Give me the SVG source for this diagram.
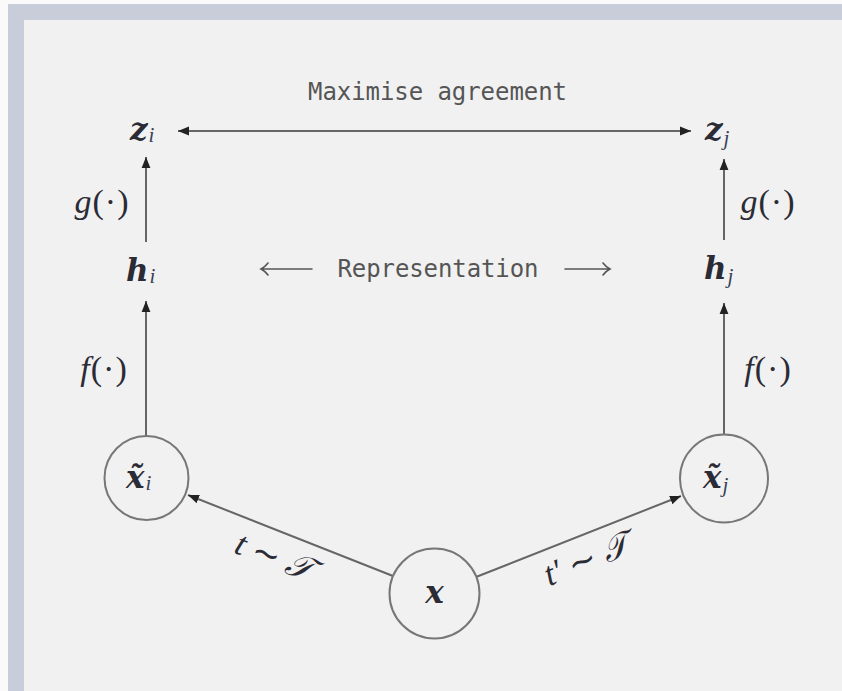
<svg xmlns="http://www.w3.org/2000/svg" width="842" height="691" viewBox="0 0 842 691">
<defs>
<style>
.bg{fill:#f1f1f1}
.band{fill:#c9ccd9}
.mono{font-family:"DejaVu Sans Mono","Liberation Mono",monospace;font-size:24px;fill:#555}
.mb{font-family:"DejaVu Serif",serif;font-weight:bold;font-style:italic;font-size:31px;fill:#2b2b35}
.mi{font-family:"Liberation Serif",serif;font-style:italic;font-size:34px;fill:#2b2b35}
.up{font-family:"Liberation Serif",serif;font-style:normal;font-size:34px;fill:#2b2b35}
.sub{font-family:"Liberation Serif",serif;font-style:italic;font-weight:normal;font-size:21px;fill:#3a3f55}
.line{stroke:#666;stroke-width:2;fill:none}
.thin{stroke:#555;stroke-width:1.6;fill:none;stroke-linecap:round}
.node{stroke:#777;stroke-width:2;fill:none}
</style>
<marker id="ah" viewBox="0 0 10 10" refX="10" refY="5" markerWidth="11" markerHeight="11" markerUnits="userSpaceOnUse" orient="auto">
<path d="M0,1 L10,5 L0,9 z" fill="#222"/>
</marker>
</defs>
<rect x="0" y="0" width="842" height="691" fill="#fafafa"/>
<rect x="8" y="4" width="834" height="687" class="band"/>
<rect x="24" y="20" width="818" height="671" class="bg"/>

<g id="connectors">
<line class="line" x1="400" y1="131" x2="178" y2="131" marker-end="url(#ah)"/>
<line class="line" x1="400" y1="131" x2="691" y2="131" marker-end="url(#ah)"/>
<line class="line" x1="146" y1="242" x2="146" y2="157" marker-end="url(#ah)"/>
<line class="line" x1="724" y1="240" x2="724" y2="159" marker-end="url(#ah)"/>
<line class="line" x1="146" y1="436" x2="146" y2="301" marker-end="url(#ah)"/>
<line class="line" x1="724" y1="434" x2="724" y2="303" marker-end="url(#ah)"/>
<line class="line" x1="393" y1="576" x2="188" y2="495" marker-end="url(#ah)"/>
<line class="line" x1="476" y1="577" x2="681" y2="496" marker-end="url(#ah)"/>
<text class="mono" x="437.5" y="100" text-anchor="middle" textLength="259">Maximise agreement</text>
<text class="mono" x="438" y="277" text-anchor="middle" textLength="201">Representation</text>
<path class="thin" d="M312,269 H261 M268,263 Q265,267 261,269 Q265,271 268,275"/>
<path class="thin" d="M565,269 H610 M603,263 Q606,267 610,269 Q606,271 603,275"/>
<text class="mi" x="102" y="213" text-anchor="middle" letter-spacing="1">g<tspan class="up">(·)</tspan></text>
<text class="mi" x="768" y="213" text-anchor="middle" letter-spacing="1">g<tspan class="up">(·)</tspan></text>
<text class="mi" x="104" y="380" text-anchor="middle" letter-spacing="1">f<tspan class="up">(·)</tspan></text>
<text class="mi" x="768" y="380" text-anchor="middle" letter-spacing="1">f<tspan class="up">(·)</tspan></text>
<text class="mi" transform="translate(270,567) rotate(21.7)" text-anchor="middle">t <tspan class="up">∼</tspan> 𝒯</text>
<text class="mi" transform="translate(590,570) rotate(-21.7)" text-anchor="middle">t′ <tspan class="up">∼</tspan> 𝒯</text>
</g>

<g id="z_i"><text class="mb" x="130" y="140">z<tspan class="sub" dx="1" dy="2">i</tspan></text></g>
<g id="z_j"><text class="mb" x="705" y="140">z<tspan class="sub" dx="1" dy="5">j</tspan></text></g>
<g id="h_i"><text class="mb" x="126" y="281">h<tspan class="sub" dx="1" dy="2">i</tspan></text></g>
<g id="h_j"><text class="mb" x="704" y="279">h<tspan class="sub" dx="1" dy="4">j</tspan></text></g>
<g id="xt_i"><circle class="node" cx="146.5" cy="478" r="42"/><text class="mb" x="126" y="488">x̃<tspan class="sub" dx="1" dy="2">i</tspan></text></g>
<g id="xt_j"><circle class="node" cx="724" cy="478.5" r="44"/><text class="mb" x="703" y="488">x̃<tspan class="sub" dx="1" dy="4">j</tspan></text></g>
<g id="x"><circle class="node" cx="434.5" cy="593.5" r="45"/><text class="mb" x="434.5" y="603" text-anchor="middle">x</text></g>
</svg>
